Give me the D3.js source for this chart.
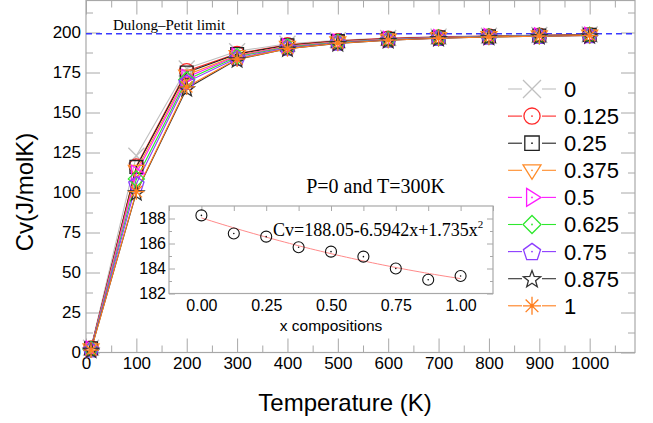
<!DOCTYPE html>
<html>
<head>
<meta charset="utf-8">
<script src="https://cdn.jsdelivr.net/npm/d3@7.9.0/dist/d3.min.js"></script>
<style>
  body { margin: 0; background: #fff; }
  svg { display: block; }
  text { font-family: "Liberation Sans", Arial, sans-serif; fill: #000; }
  .serif { font-family: "Liberation Serif", "Times New Roman", serif; }
</style>
</head>
<body>
<div id="chart"></div>
<script>
// Temperatures (K) and Cv (J/molK) for each composition x
const temps = [10, 100, 200, 300, 400, 500, 600, 700, 800, 900, 1000];
const compositions = ['0', '0.125', '0.25', '0.375', '0.5', '0.625', '0.75', '0.875', '1'];
const cv0     = [3.0, 123.0, 177.5, 188.3, 193.0, 195.2, 196.6, 197.4, 198.0, 198.4, 198.7];
const cv0125  = [2.8, 116.5, 176.0, 186.8, 192.3, 194.8, 196.3, 197.2, 197.8, 198.2, 198.6];
const cv025   = [2.6, 116.0, 175.0, 186.5, 192.0, 194.6, 196.1, 197.0, 197.7, 198.1, 198.5];
const cv0375  = [2.4, 114.0, 173.5, 185.7, 191.5, 194.3, 195.9, 196.9, 197.6, 198.0, 198.4];
const cv05    = [2.2, 112.0, 172.0, 185.3, 191.2, 194.1, 195.8, 196.8, 197.5, 197.9, 198.3];
const cv0625  = [2.0, 108.5, 170.5, 184.9, 190.9, 193.9, 195.6, 196.7, 197.4, 197.9, 198.3];
const cv075   = [1.8, 105.5, 169.0, 184.0, 190.4, 193.6, 195.4, 196.5, 197.3, 197.8, 198.2];
const cv0875  = [1.6, 100.0, 165.0, 183.1, 189.8, 193.2, 195.2, 196.4, 197.2, 197.7, 198.1];
const cv1     = [1.5, 100.5, 166.0, 183.4, 189.9, 193.3, 195.2, 196.4, 197.2, 197.7, 198.1];
const cvSeries = [cv0, cv0125, cv025, cv0375, cv05, cv0625, cv075, cv0875, cv1];
const dulongPetit = 199.2;

// inset: Cv at P=0, T=300K vs composition, with quadratic fit
const insetX = [0, 0.125, 0.25, 0.375, 0.5, 0.625, 0.75, 0.875, 1];
const insetCv = [188.25, 186.8, 186.55, 185.7, 185.35, 184.95, 184.0, 183.1, 183.4];
const fitCoef = [188.05, -6.5942, 1.735];

const xTicks = [0, 100, 200, 300, 400, 500, 600, 700, 800, 900, 1000];
const yTicks = [0, 25, 50, 75, 100, 125, 150, 175, 200];
const insetXTicks = [0, 0.25, 0.5, 0.75, 1];
const insetYTicks = [182, 184, 186, 188];

// styles per series
const colors = ['#c0c0c0', '#ff2a2a', '#222222', '#ff8c2a', '#ff1aff', '#2ee82e', '#8c3cff', '#333333', '#ff7f1e'];
const shapes = ['x', 'circle', 'square', 'triDown', 'triRight', 'diamond', 'pentagon', 'star', 'asterisk'];
const dotted = ['circle', 'square', 'triDown', 'triRight', 'diamond', 'pentagon'];

function markerPath(shape, r) {
  const p = d3.path();
  const poly = pts => { pts.forEach(([a, b], i) => i ? p.lineTo(a, b) : p.moveTo(a, b)); p.closePath(); };
  if (shape === 'x') { p.moveTo(-r, -r); p.lineTo(r, r); p.moveTo(-r, r); p.lineTo(r, -r); }
  else if (shape === 'circle') { p.moveTo(r * 0.9, 0); p.arc(0, 0, r * 0.9, 0, 2 * Math.PI); }
  else if (shape === 'square') { const h = r * 0.8; poly([[-h, -h], [h, -h], [h, h], [-h, h]]); }
  else if (shape === 'triDown') poly([[-r, -r * 0.6], [r, -r * 0.6], [0, r]]);
  else if (shape === 'triRight') poly([[-r * 0.6, -r], [r, 0], [-r * 0.6, r]]);
  else if (shape === 'diamond') poly([[0, -r], [r, 0], [0, r], [-r, 0]]);
  else if (shape === 'pentagon') poly(d3.range(5).map(k => {
    const a = -Math.PI / 2 + k * 2 * Math.PI / 5; return [r * Math.cos(a), r * Math.sin(a) + 0.8];
  }));
  else if (shape === 'star') poly(d3.range(10).map(k => {
    const a = -Math.PI / 2 + k * Math.PI / 5, rr = k % 2 ? r * 0.42 : r; return [rr * Math.cos(a), rr * Math.sin(a) + 0.8];
  }));
  else if (shape === 'asterisk') d3.range(4).forEach(k => {
    const a = k * Math.PI / 4; p.moveTo(-r * Math.cos(a), -r * Math.sin(a)); p.lineTo(r * Math.cos(a), r * Math.sin(a));
  });
  return p.toString();
}

const width = 653, height = 423;
const svg = d3.select('#chart').append('svg').attr('width', width).attr('height', height);

const x = d3.scaleLinear().domain([0, 1090]).range([86, 635]);
const y = d3.scaleLinear().domain([0, 220]).range([352.5, 0.5]);
const axisColor = '#a8a8a8';

function styleAxis(g) {
  g.select('.domain').remove();
  g.selectAll('.tick line').attr('stroke', axisColor);
  g.selectAll('.tick text').style('font-size', '17px').attr('fill', '#111');
}

// main axes: inward major/minor ticks on all four sides
const xMinor = d3.range(50, 1090, 100);
const yMinor = d3.range(12.5, 220, 25);
svg.append('g').attr('transform', `translate(0,${y(0)})`)
  .call(d3.axisBottom(x).tickValues(xTicks).tickSize(-14).tickPadding(4).tickFormat(d3.format('d'))).call(styleAxis);
svg.append('g').attr('transform', `translate(0,${y(0)})`)
  .call(d3.axisBottom(x).tickValues(xMinor).tickSize(-7).tickFormat('')).call(styleAxis);
svg.append('g').attr('transform', `translate(0,${y(220)})`)
  .call(d3.axisTop(x).tickValues(xTicks).tickSize(-14).tickFormat('')).call(styleAxis);
svg.append('g').attr('transform', `translate(0,${y(220)})`)
  .call(d3.axisTop(x).tickValues(xMinor).tickSize(-7).tickFormat('')).call(styleAxis);
svg.append('g').attr('transform', `translate(${x(0)},0)`)
  .call(d3.axisLeft(y).tickValues(yTicks).tickSize(-14).tickPadding(5).tickFormat(d3.format('d'))).call(styleAxis);
svg.append('g').attr('transform', `translate(${x(0)},0)`)
  .call(d3.axisLeft(y).tickValues(yMinor).tickSize(-7).tickFormat('')).call(styleAxis);
svg.append('g').attr('transform', `translate(${x(1090)},0)`)
  .call(d3.axisRight(y).tickValues(yTicks).tickSize(-14).tickFormat('')).call(styleAxis);
svg.append('g').attr('transform', `translate(${x(1090)},0)`)
  .call(d3.axisRight(y).tickValues(yMinor).tickSize(-7).tickFormat('')).call(styleAxis);

svg.append('rect')
  .attr('x', x(0)).attr('y', y(220)).attr('width', x(1090) - x(0)).attr('height', y(0) - y(220))
  .attr('fill', 'none').attr('stroke', axisColor).attr('stroke-width', 1.2);

// axis titles
svg.append('text').attr('x', 345).attr('y', 411).attr('text-anchor', 'middle')
  .style('font-size', '24px').text('Temperature (K)');
svg.append('text').attr('transform', 'translate(33,192) rotate(-90)').attr('text-anchor', 'middle')
  .style('font-size', '24px').text('Cv(J/molK)');

// Dulong-Petit limit
svg.append('line')
  .attr('x1', x(0)).attr('x2', x(1090)).attr('y1', y(dulongPetit)).attr('y2', y(dulongPetit))
  .attr('stroke', '#3a3aff').attr('stroke-width', 1.5).attr('stroke-dasharray', '6,4');
svg.append('text').attr('class', 'serif').attr('x', 113).attr('y', 30)
  .style('font-size', '15px').text('Dulong\u2013Petit limit');

// series lines and markers
const line = d3.line().x((d, i) => x(temps[i])).y(d => y(d));
const series = svg.append('g');
cvSeries.forEach((vals, s) => {
  series.append('path').attr('d', line(vals))
    .attr('fill', 'none').attr('stroke', colors[s]).attr('stroke-width', 1.1);
});
cvSeries.forEach((vals, s) => {
  const g = series.append('g');
  g.selectAll('path').data(vals).join('path')
    .attr('transform', (d, i) => `translate(${x(temps[i])},${y(d)})`)
    .attr('d', markerPath(shapes[s], 8))
    .attr('fill', 'none').attr('stroke', colors[s]).attr('stroke-width', 1.3);
  if (dotted.includes(shapes[s])) {
    g.selectAll('circle').data(vals).join('circle')
      .attr('cx', (d, i) => x(temps[i])).attr('cy', d => y(d)).attr('r', 0.9).attr('fill', colors[s]);
  }
});

// legend
const legend = svg.append('g');
compositions.forEach((label, s) => {
  const cy = 89 + s * 27.1;
  const row = legend.append('g').attr('transform', `translate(532,${cy})`);
  row.append('line').attr('x1', -24).attr('x2', -10).attr('stroke', colors[s]).attr('stroke-width', 1.1);
  row.append('line').attr('x1', 10).attr('x2', 24).attr('stroke', colors[s]).attr('stroke-width', 1.1);
  row.append('path').attr('d', markerPath(shapes[s], 9))
    .attr('fill', 'none').attr('stroke', colors[s]).attr('stroke-width', 1.3);
  if (dotted.includes(shapes[s])) row.append('circle').attr('r', 0.9).attr('fill', colors[s]);
  if (shapes[s] === 'asterisk') row.append('circle').attr('r', 1.6).attr('fill', colors[s]);
  row.append('text').attr('x', 32).attr('y', 0).attr('dy', '0.36em')
    .style('font-size', '22px').text(label);
});

svg.append('text').attr('class', 'serif').attr('x', 445).attr('y', 193).attr('text-anchor', 'end')
  .style('font-size', '20px').text('P=0 and T=300K');

// inset
const ix = d3.scaleLinear().domain([-0.125, 1.125]).range([169, 493]);
const iy = d3.scaleLinear().domain([182, 189]).range([293.5, 206]);
const inset = svg.append('g');
inset.append('rect').attr('x', ix(-0.125)).attr('y', iy(189))
  .attr('width', ix(1.125) - ix(-0.125)).attr('height', iy(182) - iy(189)).attr('fill', '#fff');

function styleInset(g) {
  g.select('.domain').remove();
  g.selectAll('.tick line').attr('stroke', axisColor);
  g.selectAll('.tick text').style('font-size', '16px').attr('fill', '#111');
}
const ixMinor = d3.range(-0.125, 1.13, 0.25);
const iyMinor = [183, 185, 187];
inset.append('g').attr('transform', `translate(0,${iy(182)})`)
  .call(d3.axisBottom(ix).tickValues(insetXTicks).tickSize(0).tickPadding(6).tickFormat(d3.format('.2f'))).call(styleInset);
inset.append('g').attr('transform', `translate(0,${iy(189)})`)
  .call(d3.axisTop(ix).tickValues(insetXTicks.concat(ixMinor)).tickSize(-5).tickFormat('')).call(styleInset);
inset.append('g').attr('transform', `translate(${ix(-0.125)},0)`)
  .call(d3.axisLeft(iy).tickValues(insetYTicks).tickSize(-6).tickPadding(3).tickFormat(d3.format('d'))).call(styleInset);
inset.append('g').attr('transform', `translate(${ix(-0.125)},0)`)
  .call(d3.axisLeft(iy).tickValues(iyMinor).tickSize(-3).tickFormat('')).call(styleInset);
inset.append('g').attr('transform', `translate(${ix(1.125)},0)`)
  .call(d3.axisRight(iy).tickValues(insetYTicks).tickSize(-6).tickFormat('')).call(styleInset);
inset.append('g').attr('transform', `translate(${ix(1.125)},0)`)
  .call(d3.axisRight(iy).tickValues(iyMinor).tickSize(-3).tickFormat('')).call(styleInset);
inset.append('rect').attr('x', ix(-0.125)).attr('y', iy(189))
  .attr('width', ix(1.125) - ix(-0.125)).attr('height', iy(182) - iy(189))
  .attr('fill', 'none').attr('stroke', axisColor).attr('stroke-width', 1.2);

inset.append('text').attr('x', ix(0.5)).attr('y', 331).attr('text-anchor', 'middle')
  .style('font-size', '15.5px').text('x compositions');

// quadratic fit curve from the stated coefficients
const fitX = d3.range(0, 1.0001, 0.02);
inset.append('path')
  .attr('d', d3.line().x(d => ix(d)).y(d => iy(fitCoef[0] + fitCoef[1] * d + fitCoef[2] * d * d))(fitX))
  .attr('fill', 'none').attr('stroke', '#ff8a8a').attr('stroke-width', 1);

inset.selectAll('circle.pt').data(insetCv).join('circle').attr('class', 'pt')
  .attr('cx', (d, i) => ix(insetX[i])).attr('cy', d => iy(d)).attr('r', 5.5)
  .attr('fill', 'none').attr('stroke', '#111').attr('stroke-width', 1.1);
inset.selectAll('circle.dot').data(insetCv).join('circle').attr('class', 'dot')
  .attr('cx', (d, i) => ix(insetX[i])).attr('cy', d => iy(d)).attr('r', 0.8).attr('fill', '#111');

const eq = inset.append('text').attr('class', 'serif').attr('x', 273).attr('y', 236)
  .style('font-size', '18px');
eq.append('tspan').text('Cv=188.05-6.5942x+1.735x');
eq.append('tspan').attr('dy', -8).style('font-size', '11px').text('2');
</script>
</body>
</html>
